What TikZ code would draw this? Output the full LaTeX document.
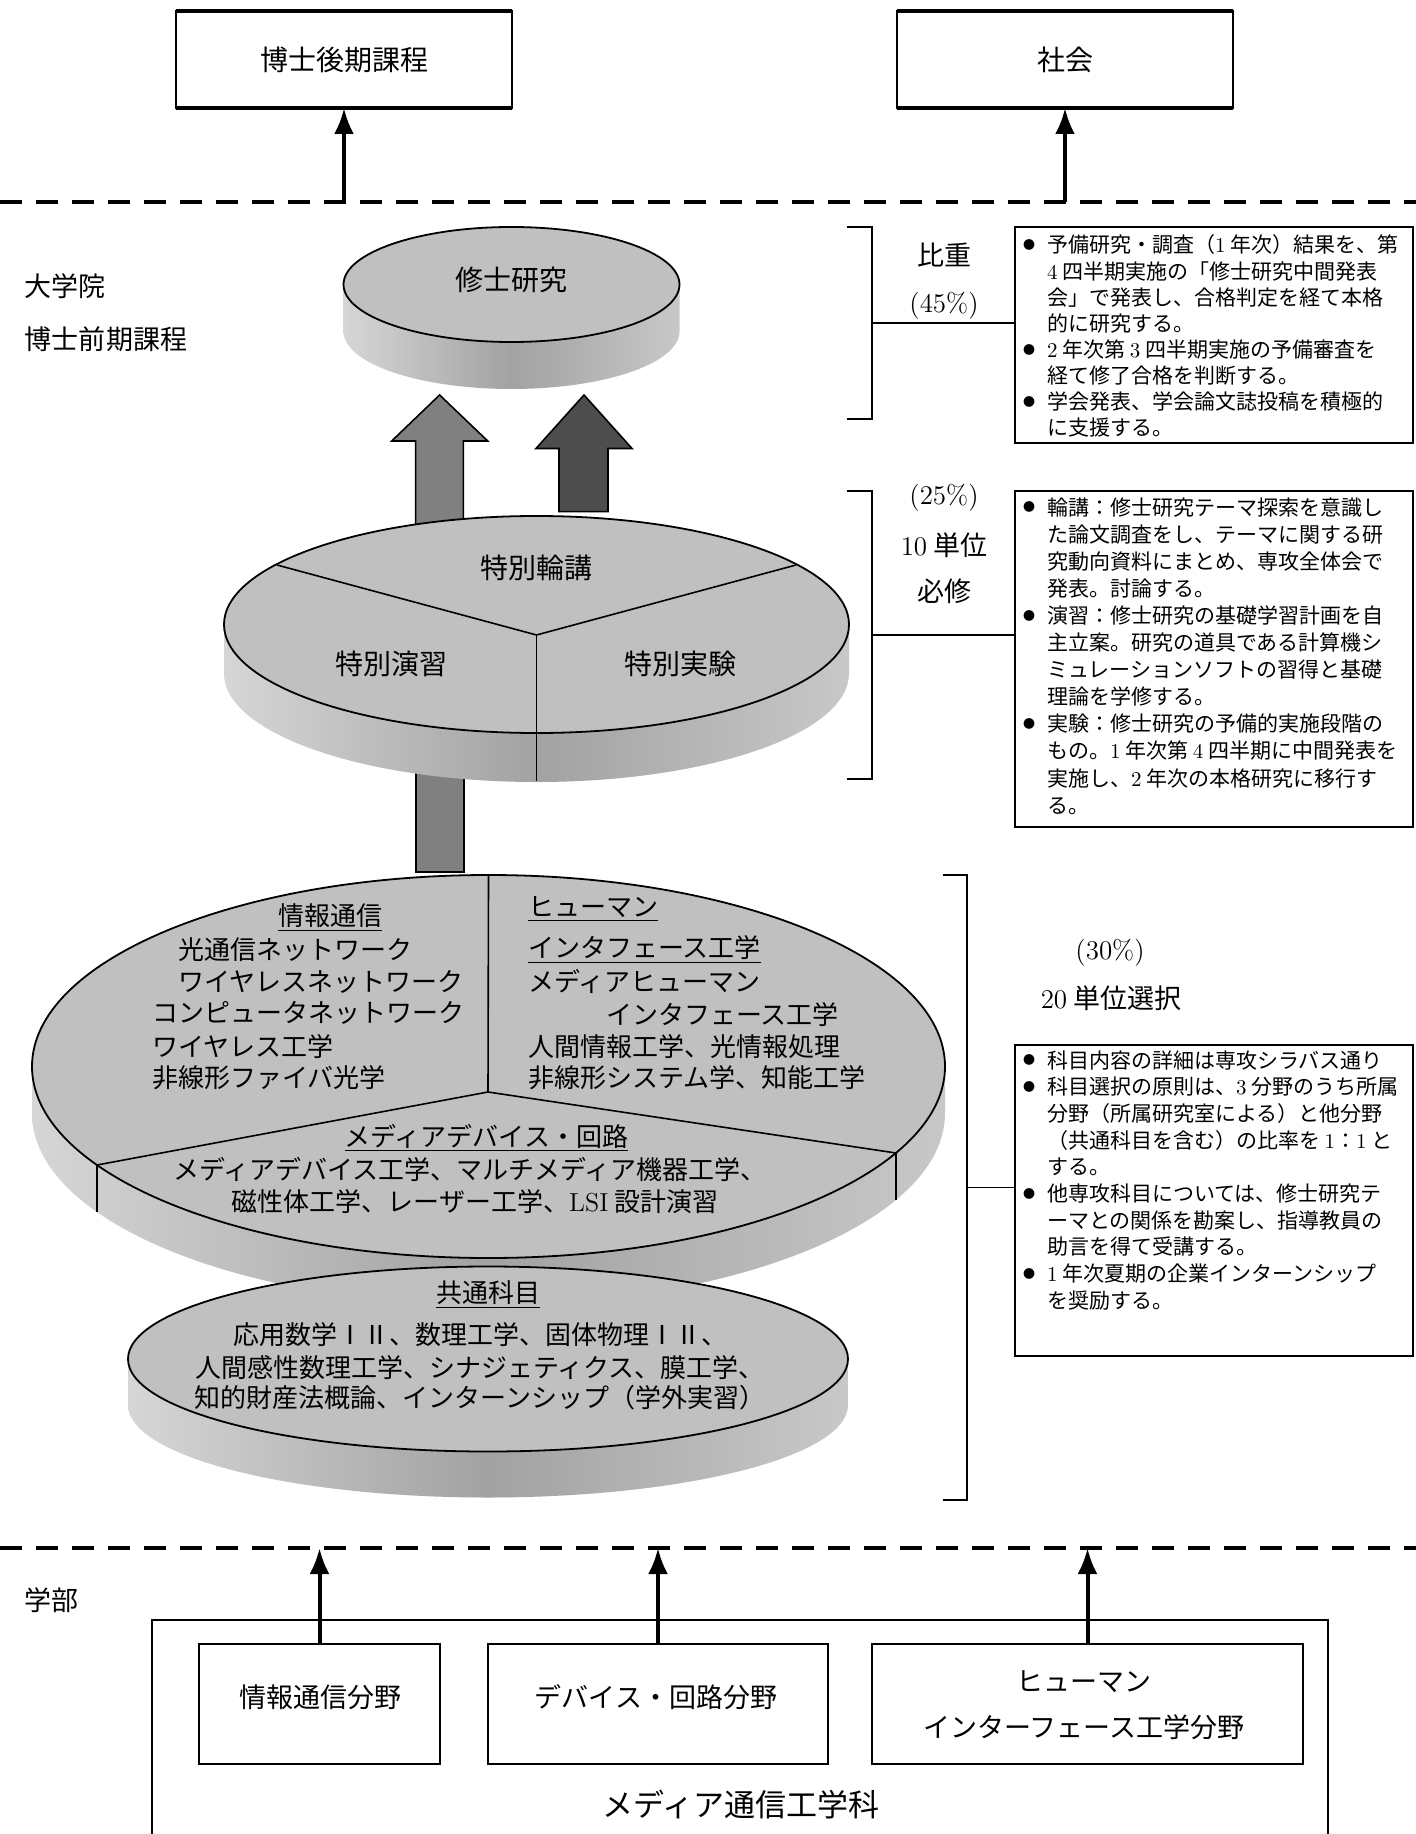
\documentclass[tikz,border=0pt]{standalone}
\usepackage{fontspec}
\newfontfamily\jp{Noto Sans CJK JP}
\usetikzlibrary{arrows.meta}
\definecolor{topgray}{HTML}{C0C0C0}
\definecolor{sideL}{HTML}{D6D6D6}
\definecolor{sideM}{HTML}{A2A2A2}
\definecolor{sideR}{HTML}{C8C8C8}
\definecolor{arrA}{HTML}{808080}
\definecolor{arrB}{HTML}{4D4D4D}
\newcommand\lmn[1]{{\rmfamily #1}}
\newcommand\bul{\llap{\raisebox{1.6pt}{\fontsize{6}{6}\selectfont ●}\hspace{6pt}}}
\newcommand\mydisc[5]{%
  \shade[left color=sideL, right color=sideR, middle color=sideM]
    (#1-#3,#2) -- (#1-#3,#2+#5) arc[start angle=180, end angle=0, x radius=#3, y radius=#4] -- (#1+#3,#2) -- cycle;
  \filldraw[fill=topgray, draw=black, line width=0.9pt] (#1,#2) ellipse[x radius=#3, y radius=#4];
}
\begin{document}
\begin{tikzpicture}[x=0.5pt,y=-0.5pt,
  every node/.style={inner sep=0pt, outer sep=0pt},
  jt/.style={font=\jp\fontsize{14}{16}\selectfont},
  jm/.style={font=\jp\fontsize{13}{15}\selectfont},
  jl/.style={font=\jp\fontsize{13.5}{16}\selectfont},
  jb/.style={font=\jp\fontsize{15.5}{18}\selectfont},
  js/.style={font=\jp\fontsize{10.5}{13}\selectfont},
  lmf/.style={font=\rmfamily\fontsize{13.5}{16}\selectfont},
  bx/.style={draw, line width=0.8pt},
  brk/.style={line width=0.8pt},
  dashline/.style={line width=2pt, dash pattern=on 10.8pt off 7.2pt},
  uparr/.style={line width=2pt, -{Latex[length=13pt,width=10pt]}},
  blockA/.style={fill=arrA, draw=black, line width=0.8pt},
  blockB/.style={fill=arrB, draw=black, line width=0.8pt},
  divider/.style={line width=0.8pt},
]
\useasboundingbox (0,0) rectangle (1416,1834);
\fill[white] (0,0) rectangle (1416,1834);

% ---------- top boxes ----------
\node[bx, minimum width=168pt, minimum height=48.5pt, jt] (b1) at (344,59.5) {博士後期課程};
\node[bx, minimum width=168pt, minimum height=48.5pt, jt] (b2) at (1065,59.5) {社会};
\draw[line width=1.6pt] (b1.north west) -- (b1.north east) (b1.south west) -- (b1.south east);
\draw[line width=1.6pt] (b2.north west) -- (b2.north east) (b2.south west) -- (b2.south east);

% ---------- dashed line 1 ----------
\coordinate (dl1) at (0,202); \coordinate (dr1) at (1416,202);
\draw[dashline] (dl1) -- (dr1);
\coordinate (t1) at (344,202); \coordinate (t2) at (1065,202);
\draw[uparr] (t1) -- (b1);
\draw[uparr] (t2) -- (b2);

% ---------- left labels ----------
\node[jl, anchor=base west] (lab1) at (25,297) {大学院};
\node[jl, anchor=base west] (lab2) at (25,350) {博士前期課程};
\node[jl, anchor=base west] (lab3) at (25,1610) {学部};

% ---------- block arrows ----------
\filldraw[blockA] (415.6,600) -- (415.6,441) -- (391.7,441) -- (439.6,395) -- (487.7,441) -- (463.3,441) -- (463.3,600) -- cycle;
\filldraw[blockB] (559,511.6) -- (559,448.5) -- (536,448.5) -- (584,395) -- (632,448.5) -- (608,448.5) -- (608,511.6) -- cycle;
\filldraw[blockA] (416,760) rectangle (464,872);

% ---------- disc 1 ----------
\mydisc{511.5}{284.5}{168}{57.5}{47}
\node[jt] (d1t) at (511,280) {修士研究};

% ---------- disc 2 ----------
\mydisc{536.5}{624.5}{312.5}{108.5}{49}
\coordinate (m2) at (536.5,635);
\draw[divider] (277,565) -- (m2) -- (796,565);
\draw[divider] (m2) -- (536.5,781);
\node[jt] (d2a) at (536,568) {特別輪講};
\node[jt] (d2b) at (391,664) {特別演習};
\node[jt] (d2c) at (680,664) {特別実験};

% ---------- disc 3 ----------
\mydisc{488.5}{1066.5}{456.5}{191.5}{47}
\coordinate (m3) at (488,1092);
\draw[divider] (488.5,875) -- (m3);
\draw[divider] (97,1165) -- (m3) -- (896,1153);
\draw[divider] (97,1165) -- (97,1212);
\draw[divider] (896,1153) -- (896,1200);
\node[jm] (h1) at (330,918) {\underline{情報通信}};
\node[jm, anchor=base west] (l1) at (152,959) {　光通信ネットワーク};
\node[jm, anchor=base west] (l2) at (152,991) {　ワイヤレスネットワーク};
\node[jm, anchor=base west] (l3) at (152,1022) {コンピュータネットワーク};
\node[jm, anchor=base west] (l4) at (152,1056) {ワイヤレス工学};
\node[jm, anchor=base west] (l5) at (152,1087) {非線形ファイバ光学};
\node[jm, anchor=base west] (h2) at (528,916) {\underline{ヒューマン}};
\node[jm, anchor=base west] (h3) at (528,957) {\underline{インタフェース工学}};
\node[jm, anchor=base west] (r1) at (528,991) {メディアヒューマン};
\node[jm, anchor=base west] (r2) at (528,1024) {　　　インタフェース工学};
\node[jm, anchor=base west] (r3) at (528,1056) {人間情報工学、光情報処理};
\node[jm, anchor=base west] (r4) at (528,1087) {非線形システム学、知能工学};
\node[jm, anchor=base] (h4) at (486.5,1146) {\underline{メディアデバイス・回路}};
\node[jm, anchor=base] (c1) at (470,1179) {メディアデバイス工学、マルチメディア機器工学、};
\node[jm, anchor=base] (c2) at (475,1211) {磁性体工学、レーザー工学、\lmn{LSI} 設計演習};

% ---------- disc 4 ----------
\mydisc{488}{1359}{360}{92.5}{46}
\node[jm, anchor=base] (h5) at (488,1302) {\underline{共通科目}};
\node[jm, anchor=base] (k1) at (480,1344) {応用数学ⅠⅡ、数理工学、固体物理ⅠⅡ、};
\node[jm, anchor=base] (k2) at (480,1377) {人間感性数理工学、シナジェティクス、膜工学、};
\node[jm, anchor=base] (k3) at (480,1407) {知的財産法概論、インターンシップ（学外実習）};

% ---------- text boxes ----------
\node[bx, line width=1pt, minimum width=199pt, minimum height=108pt] (bA) at (1214,335) {};
\node[bx, line width=1pt, minimum width=199pt, minimum height=168pt] (bB) at (1214,659) {};
\node[bx, line width=1pt, minimum width=199pt, minimum height=155.5pt] (bC) at (1214,1200.5) {};

% ---------- brackets ----------
\coordinate (k1t) at (872,227); \coordinate (k1b) at (872,419); \coordinate (k1m) at (872,323);
\draw[brk] (846.5,227) -- (k1t) -- (k1b) -- (846.5,419);
\draw[brk] (k1m) -- (k1m -| bA.west);
\coordinate (k2t) at (872,491); \coordinate (k2b) at (872,779); \coordinate (k2m) at (872,635);
\draw[brk] (846.5,491) -- (k2t) -- (k2b) -- (846.5,779);
\draw[brk] (k2m) -- (k2m -| bB.west);
\coordinate (k3t) at (967,875); \coordinate (k3b) at (967,1500); \coordinate (k3m) at (967,1187.5);
\draw[brk] (943,875) -- (k3t) -- (k3b) -- (943,1500);
\draw[brk] (k3m) -- (k3m -| bC.west);

\node[jl, anchor=base] (w1) at (944,266) {比重};
\node[lmf, anchor=base] (w2) at (944,313) {(45\%)};
\node[lmf, anchor=base] (w3) at (944,504) {(25\%)};
\node[jl, anchor=base] (w4) at (944,555) {\lmn{10} 単位};
\node[jl, anchor=base] (w5) at (944,601) {必修};
\node[lmf, anchor=base] (w6) at (1110,959) {(30\%)};
\node[jl, anchor=base] (w7) at (1111,1008) {\lmn{20} 単位選択};

% ---------- bullet texts ----------
\foreach \t [count=\i from 0] in {
 {\bul 予備研究・調査（\lmn{1} 年次）結果を、第},
 {\lmn{4} 四半期実施の「修士研究中間発表},
 {会」で発表し、合格判定を経て本格},
 {的に研究する。},
 {\bul \lmn{2} 年次第 \lmn{3} 四半期実施の予備審査を},
 {経て修了合格を判断する。},
 {\bul 学会発表、学会論文誌投稿を積極的},
 {に支援する。}
}{\node[js, anchor=base west] (ta\i) at (1047,253+26.1*\i) {\t};}

\foreach \t [count=\i from 0] in {
 {\bul 輪講：修士研究テーマ探索を意識し},
 {た論文調査をし、テーマに関する研},
 {究動向資料にまとめ、専攻全体会で},
 {発表。討論する。},
 {\bul 演習：修士研究の基礎学習計画を自},
 {主立案。研究の道具である計算機シ},
 {ミュレーションソフトの習得と基礎},
 {理論を学修する。},
 {\bul 実験：修士研究の予備的実施段階の},
 {もの。\lmn{1} 年次第 \lmn{4} 四半期に中間発表を},
 {実施し、\lmn{2} 年次の本格研究に移行す},
 {る。}
}{\node[js, anchor=base west] (tb\i) at (1047,515+27.1*\i) {\t};}

\foreach \t [count=\i from 0] in {
 {\bul 科目内容の詳細は専攻シラバス通り},
 {\bul 科目選択の原則は、\lmn{3} 分野のうち所属},
 {分野（所属研究室による）と他分野},
 {（共通科目を含む）の比率を \lmn{1}：\lmn{1} と},
 {する。},
 {\bul 他専攻科目については、修士研究テ},
 {ーマとの関係を勘案し、指導教員の},
 {助言を得て受講する。},
 {\bul \lmn{1} 年次夏期の企業インターンシップ},
 {を奨励する。}
}{\node[js, anchor=base west] (tc\i) at (1047,1068+26.7*\i) {\t};}

% ---------- bottom ----------
\coordinate (dl2) at (0,1548); \coordinate (dr2) at (1416,1548);
\draw[dashline] (dl2) -- (dr2);
\draw[line width=1pt] (152,1834) -- (152,1620) -- (1327.6,1620) -- (1327.6,1834);
\node[bx, minimum width=120.5pt, minimum height=60pt] (i1) at (319.5,1704) {};
\node[bx, minimum width=170pt, minimum height=60pt] (i2) at (658,1704) {};
\node[bx, minimum width=215.5pt, minimum height=60pt] (i3) at (1087.5,1704) {};
\foreach \n in {i1,i2,i3}{
  \draw[line width=1.4pt] (\n.north west) -- (\n.north east) (\n.south west) -- (\n.south east);
}
\node[jl] (i1t) at (320,1697) {情報通信分野};
\node[jl] (i2t) at (656,1697) {デバイス・回路分野};
\node[jl] (i3a) at (1084,1682) {ヒューマン};
\node[jl] (i3b) at (1084,1727) {インターフェース工学分野};
\node[jb] (dept) at (741,1805) {メディア通信工学科};
\coordinate (u1) at (319.5,1548); \coordinate (u2) at (658,1548); \coordinate (u3) at (1087.5,1548);
\draw[uparr] (i1) -- (u1);
\draw[uparr] (i2) -- (u2);
\draw[uparr] (i3) -- (u3);
\end{tikzpicture}
\end{document}
